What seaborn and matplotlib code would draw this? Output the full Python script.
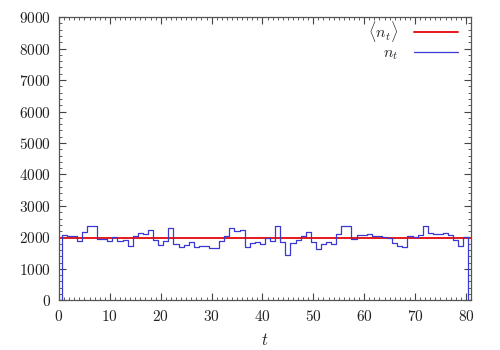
import numpy as np
import pandas as pd
import matplotlib
matplotlib.use("Agg")
import matplotlib.pyplot as plt
import seaborn as sns
from matplotlib.ticker import MultipleLocator

# data (histogram steps centred on integer t)
t_values = list(range(0, 82))
n_values = [
    0,
    2067, 2035, 2056, 1876, 2184, 2375, 2375, 1940, 1950, 1898,
    2014, 1898, 1908, 1718, 2035, 2141, 2099, 2237, 1908, 1750,
    1887, 2311, 1803, 1686, 1760, 1855, 1686, 1718, 1739, 1675,
    1654, 1898, 2056, 2300, 2194, 2226, 1686, 1834, 1866, 1792,
    1993, 1887, 2354, 1866, 1453, 1824, 1908, 2046, 2184, 1855,
    1643, 1781, 1855, 1803, 2099, 2375, 2375, 1950, 2088, 2067,
    2120, 2035, 2056, 2025, 1993, 1813, 1718, 1686, 2046, 2003,
    2067, 2354, 2141, 2120, 2099, 2152, 2088, 1919, 1718, 2025,
    0,
]
mean_n = 1970
mean_t = [0, 81]

sns.set_style("ticks")
plt.rcParams["font.family"] = ["cmr10", "DejaVu Serif"]
plt.rcParams["mathtext.fontset"] = "cm"
plt.rcParams["axes.formatter.use_mathtext"] = True
plt.rcParams["axes.unicode_minus"] = False

df = pd.DataFrame({"t": t_values, "n": n_values})
df_mean = pd.DataFrame({"t": mean_t, "n": [mean_n] * len(mean_t)})

fig = plt.figure(figsize=(5, 3.5), dpi=100)
ax = fig.add_axes([0.118, 0.142, 0.824, 0.809])

sns.lineplot(data=df_mean, x="t", y="n", ax=ax, color="#e8191c", linewidth=1.4,
             label=r"$\langle n_t\rangle$", estimator=None)
sns.lineplot(data=df, x="t", y="n", ax=ax, color="#3a3ad0", linewidth=0.9,
             drawstyle="steps-mid", label=r"$n_t$", estimator=None)

ax.set_xlim(0, 81)
ax.set_ylim(0, 9000)
ax.xaxis.set_major_locator(MultipleLocator(10))
ax.xaxis.set_minor_locator(MultipleLocator(1))
ax.yaxis.set_major_locator(MultipleLocator(1000))
ax.yaxis.set_minor_locator(MultipleLocator(200))
ax.tick_params(which="both", direction="in", top=True, right=True,
               labelsize=11, colors="#444444", labelcolor="#222222")
ax.tick_params(which="major", length=5, width=0.8, pad=6)
ax.tick_params(which="minor", length=2.5, width=0.6)
for sp in ax.spines.values():
    sp.set_visible(True)
    sp.set_color("#555555")
    sp.set_linewidth(0.9)

ax.set_xlabel(r"$t$", fontsize=12, labelpad=6)
ax.set_ylabel("")

leg = ax.legend(loc="upper right", frameon=False, markerfirst=False,
                fontsize=11.5, handlelength=2.7, handletextpad=1.0,
                labelspacing=0.15, borderaxespad=0.0, borderpad=0.2,
                bbox_to_anchor=(0.975, 1.005))

fig.savefig("out.png", dpi=100)
